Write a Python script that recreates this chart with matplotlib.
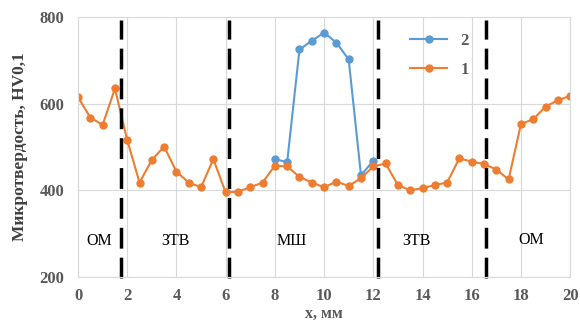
import matplotlib.pyplot as plt
import matplotlib
import numpy as np

matplotlib.rcParams['font.family'] = ['Liberation Serif', 'DejaVu Serif']

# Данные: микротвердость по длине образца
x1 = np.arange(0, 20.5, 0.5)
hv1 = [615, 568, 551, 635, 516, 418, 470, 501, 443, 418,
       407, 472, 395, 397, 407, 418, 457, 455, 431, 418,
       407, 420, 410, 428, 455, 462, 412, 400, 405, 412,
       418, 474, 466, 461, 448, 425, 553, 564, 593, 608, 618]
x2 = np.arange(8, 12.5, 0.5)
hv2 = [472, 465, 725, 745, 764, 741, 702, 435, 468]

# Границы зон и подписи
borders = [1.73, 6.12, 12.18, 16.58]
zone_names = ['ОМ', 'ЗТВ', 'МШ', 'ЗТВ', 'ОМ']
zone_x = [0.85, 3.95, 8.7, 13.75, 18.4]
zone_y = [282, 282, 282, 282, 285]

gray = '#595959'
fig = plt.figure(figsize=(5.8, 3.27), dpi=100)
ax = fig.add_axes([0.1345, 0.153, 0.8485, 0.795])

ax.plot(x2, hv2, color='#5B9BD5', marker='o', markersize=5, linewidth=1.5, label='2')
ax.plot(x1, hv1, color='#ED7D31', marker='o', markersize=5, linewidth=1.5, label='1')

for b in borders:
    ax.plot([b, b], [198, 794], color='black', linewidth=2.5,
            linestyle=(0, (6, 2.6)), clip_on=False)

for name, zx, zy in zip(zone_names, zone_x, zone_y):
    ax.text(zx, zy, name, ha='center', va='center', fontsize=11.5, color='black')

ax.set_xlim(0, 20)
ax.set_ylim(200, 800)
ax.set_xticks(np.arange(0, 21, 2))
ax.set_yticks([200, 400, 600, 800])
ax.grid(True, color='#d9d9d9', linewidth=0.8)
ax.set_axisbelow(True)
for s in ax.spines.values():
    s.set_color('#d9d9d9')
ax.tick_params(axis='y', length=0, labelsize=12, labelcolor=gray, pad=10)
ax.tick_params(axis='x', length=0, labelsize=12, labelcolor=gray, pad=8)
for lab in ax.get_xticklabels() + ax.get_yticklabels():
    lab.set_fontweight('bold')

ax.set_xlabel('x, мм', fontsize=11.5, fontweight='bold', color=gray, labelpad=1)
ax.set_ylabel('Микротвердость, HV0,1', fontsize=12.5, fontweight='bold', color='#404040', labelpad=8)

leg = ax.legend(loc='upper left', bbox_to_anchor=(0.645, 0.995), frameon=False,
                handlelength=2.2, labelspacing=0.75,
                prop={'weight': 'bold', 'size': 12})
for t in leg.get_texts():
    t.set_color(gray)

plt.savefig('out.png', dpi=100, facecolor='white')
plt.close()
